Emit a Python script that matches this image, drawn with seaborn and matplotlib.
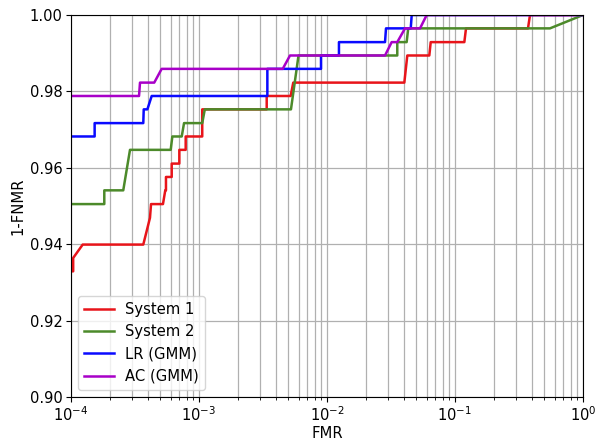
import matplotlib
matplotlib.use("Agg")
import matplotlib.pyplot as plt
import seaborn as sns
import pandas as pd

# System 1
sys1_fmr = [1e-5, 1.04e-4, 1.04e-4, 1.234e-4, 3.67e-4, 4.14e-4, 4.22e-4, 5.23e-4, 5.45e-4,
            5.52e-4, 5.52e-4, 6.12e-4, 6.12e-4, 7.02e-4, 7.02e-4, 7.87e-4, 7.87e-4,
            1.06e-3, 1.06e-3, 3.38e-3, 3.38e-3, 5.20e-3, 5.45e-3, 0.0402, 0.0424,
            0.0630, 0.0646, 0.1183, 0.1219, 0.3718, 0.3854, 1.0]
sys1_tpr = [0.9329, 0.9329, 0.9364, 0.9399, 0.9399, 0.9469, 0.9505, 0.9505, 0.9541,
            0.9541, 0.9576, 0.9576, 0.9611, 0.9611, 0.9647, 0.9647, 0.9682,
            0.9682, 0.9753, 0.9753, 0.9788, 0.9788, 0.9823, 0.9823, 0.9894,
            0.9894, 0.9929, 0.9929, 0.9965, 0.9965, 1.0, 1.0]

# System 2
sys2_fmr = [5e-5, 1.82e-4, 1.82e-4, 2.56e-4, 2.89e-4, 6.01e-4, 6.19e-4, 7.33e-4, 7.64e-4,
            1.06e-3, 1.11e-3, 5.23e-3, 5.99e-3, 3.54e-2, 3.54e-2, 4.19e-2, 4.31e-2,
            0.552, 1.0]
sys2_tpr = [0.9505, 0.9505, 0.9541, 0.9541, 0.9647, 0.9647, 0.9682, 0.9682, 0.9717,
            0.9717, 0.9753, 0.9753, 0.9894, 0.9894, 0.9929, 0.9929, 0.9965,
            0.9965, 1.0]

# LR (GMM)
lr_fmr = [5e-5, 1.53e-4, 1.53e-4, 3.67e-4, 3.70e-4, 3.95e-4, 4.27e-4, 3.42e-3, 3.42e-3,
          8.98e-3, 8.98e-3, 1.24e-2, 1.24e-2, 2.84e-2, 2.89e-2, 4.51e-2, 4.59e-2, 1.0]
lr_tpr = [0.9682, 0.9682, 0.9717, 0.9717, 0.9753, 0.9753, 0.9788, 0.9788, 0.9859,
          0.9859, 0.9894, 0.9894, 0.9929, 0.9929, 0.9965, 0.9965, 1.0, 1.0]

# AC (GMM)
ac_fmr = [5e-5, 3.40e-4, 3.46e-4, 4.47e-4, 5.11e-4, 4.51e-3, 5.14e-3, 2.84e-2, 3.20e-2,
          3.54e-2, 4.07e-2, 5.33e-2, 6.01e-2, 1.0]
ac_tpr = [0.9788, 0.9788, 0.9823, 0.9823, 0.9859, 0.9859, 0.9894, 0.9894, 0.9929,
          0.9929, 0.9965, 0.9965, 1.0, 1.0]

labels = ["System 1", "System 2", "LR (GMM)", "AC (GMM)"]
colors = ["#e8141a", "#4c8a2a", "#0a0aff", "#a800c8"]
series = [(sys1_fmr, sys1_tpr), (sys2_fmr, sys2_tpr), (lr_fmr, lr_tpr), (ac_fmr, ac_tpr)]

fs = 10.6
fig = plt.figure(figsize=(5.97, 4.43), dpi=100)
ax = fig.add_axes([71 / 597, 1 - 397 / 443, (583 - 71) / 597, (397 - 15) / 443])

for (xs, ys), lab, col in zip(series, labels, colors):
    df = pd.DataFrame({"FMR": xs, "1-FNMR": ys})
    sns.lineplot(data=df, x="FMR", y="1-FNMR", sort=False, estimator=None,
                 color=col, label=lab, linewidth=1.8, ax=ax)

ax.set_xscale("log")
ax.set_xlim(1e-4, 1)
ax.set_ylim(0.90, 1.00)
ax.set_yticks([0.90, 0.92, 0.94, 0.96, 0.98, 1.00])
ax.grid(True, which="major", axis="both", color="#b0b0b0", linewidth=0.9)
ax.grid(True, which="minor", axis="x", color="#b0b0b0", linewidth=0.9)
ax.set_axisbelow(True)
ax.set_xlabel("FMR", fontsize=fs, labelpad=1.5)
ax.set_ylabel("1-FNMR", fontsize=fs, labelpad=3)
ax.tick_params(labelsize=fs, pad=2.5)
ax.legend(loc="lower left", fontsize=fs)

fig.savefig("out.png", dpi=100)
